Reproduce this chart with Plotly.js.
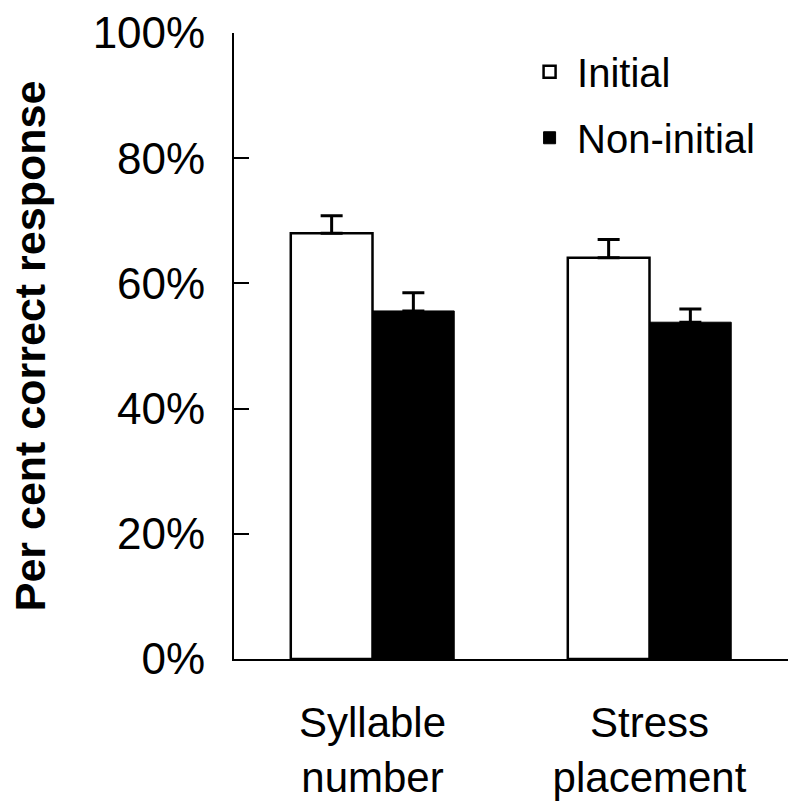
<!DOCTYPE html>
<html>
<head>
<meta charset="utf-8">
<script src="https://cdn.plot.ly/plotly-3.0.1.min.js"></script>
<style>html,body{margin:0;padding:0;background:#fff;}#chart{width:800px;height:811px;}</style>
</head>
<body>
<div id="chart"></div>
<script>
const categories = ["Syllable<br>number", "Stress<br>placement"];
const initialValues = [68.0, 64.1];
const initialErrors = [2.8, 2.9];
const nonInitialValues = [55.6, 53.8];
const nonInitialErrors = [2.9, 2.1];
const yTickValues = [0, 20, 40, 60, 80, 100];
const yTickLabels = ["0%", "20%", "40%", "60%", "80%", "100%"];

const FONT = "Arial, 'Liberation Sans', Helvetica, sans-serif";

const traces = [
  {
    type: "bar", name: "Initial", x: categories, y: initialValues, legendgroup: "a",
    marker: {color: "#ffffff", line: {color: "#000000", width: 2.5}},
    error_y: {type: "data", symmetric: false, array: initialErrors, arrayminus: [0, 0],
              color: "#000000", thickness: 3, width: 11}
  },
  {
    type: "bar", name: "Non-initial", x: categories, y: nonInitialValues, legendgroup: "b",
    marker: {color: "#000000", line: {color: "#000000", width: 1}},
    error_y: {type: "data", symmetric: false, array: nonInitialErrors, arrayminus: [0, 0],
              color: "#000000", thickness: 3, width: 11}
  }
];

const layout = {
  width: 800, height: 811,
  margin: {l: 234, r: 12, t: 33, b: 152},
  paper_bgcolor: "#ffffff", plot_bgcolor: "#ffffff",
  font: {family: FONT, color: "#000000", size: 40},
  barmode: "group", bargap: 0.41, bargroupgap: 0,
  showlegend: true,
  legend: {x: 0.52, y: 0.99, xanchor: "left", yanchor: "top",
           font: {family: FONT, size: 40, color: "#000000"},
           bgcolor: "rgba(0,0,0,0)", tracegroupgap: 11, itemwidth: 45},
  xaxis: {
    showline: true, linecolor: "#000000", linewidth: 2,
    ticks: "", showgrid: false, zeroline: false,
    tickfont: {family: FONT, size: 42, color: "#000000"},
    ticklabelstandoff: 26
  },
  yaxis: {
    range: [0, 100], showline: true, linecolor: "#000000", linewidth: 2,
    showgrid: false, zeroline: false,
    tickmode: "array", tickvals: yTickValues, ticktext: yTickLabels,
    ticks: "inside", ticklen: 15, tickwidth: 2, tickcolor: "#000000",
    tickfont: {family: FONT, size: 44, color: "#000000"},
    ticklabelstandoff: 18,
    title: {text: "Per cent correct response", standoff: 34,
            font: {family: FONT, size: 43, color: "#000000", weight: "bold"}}
  }
};

Plotly.newPlot("chart", traces, layout, {displayModeBar: false, staticPlot: true});
</script>
</body>
</html>
